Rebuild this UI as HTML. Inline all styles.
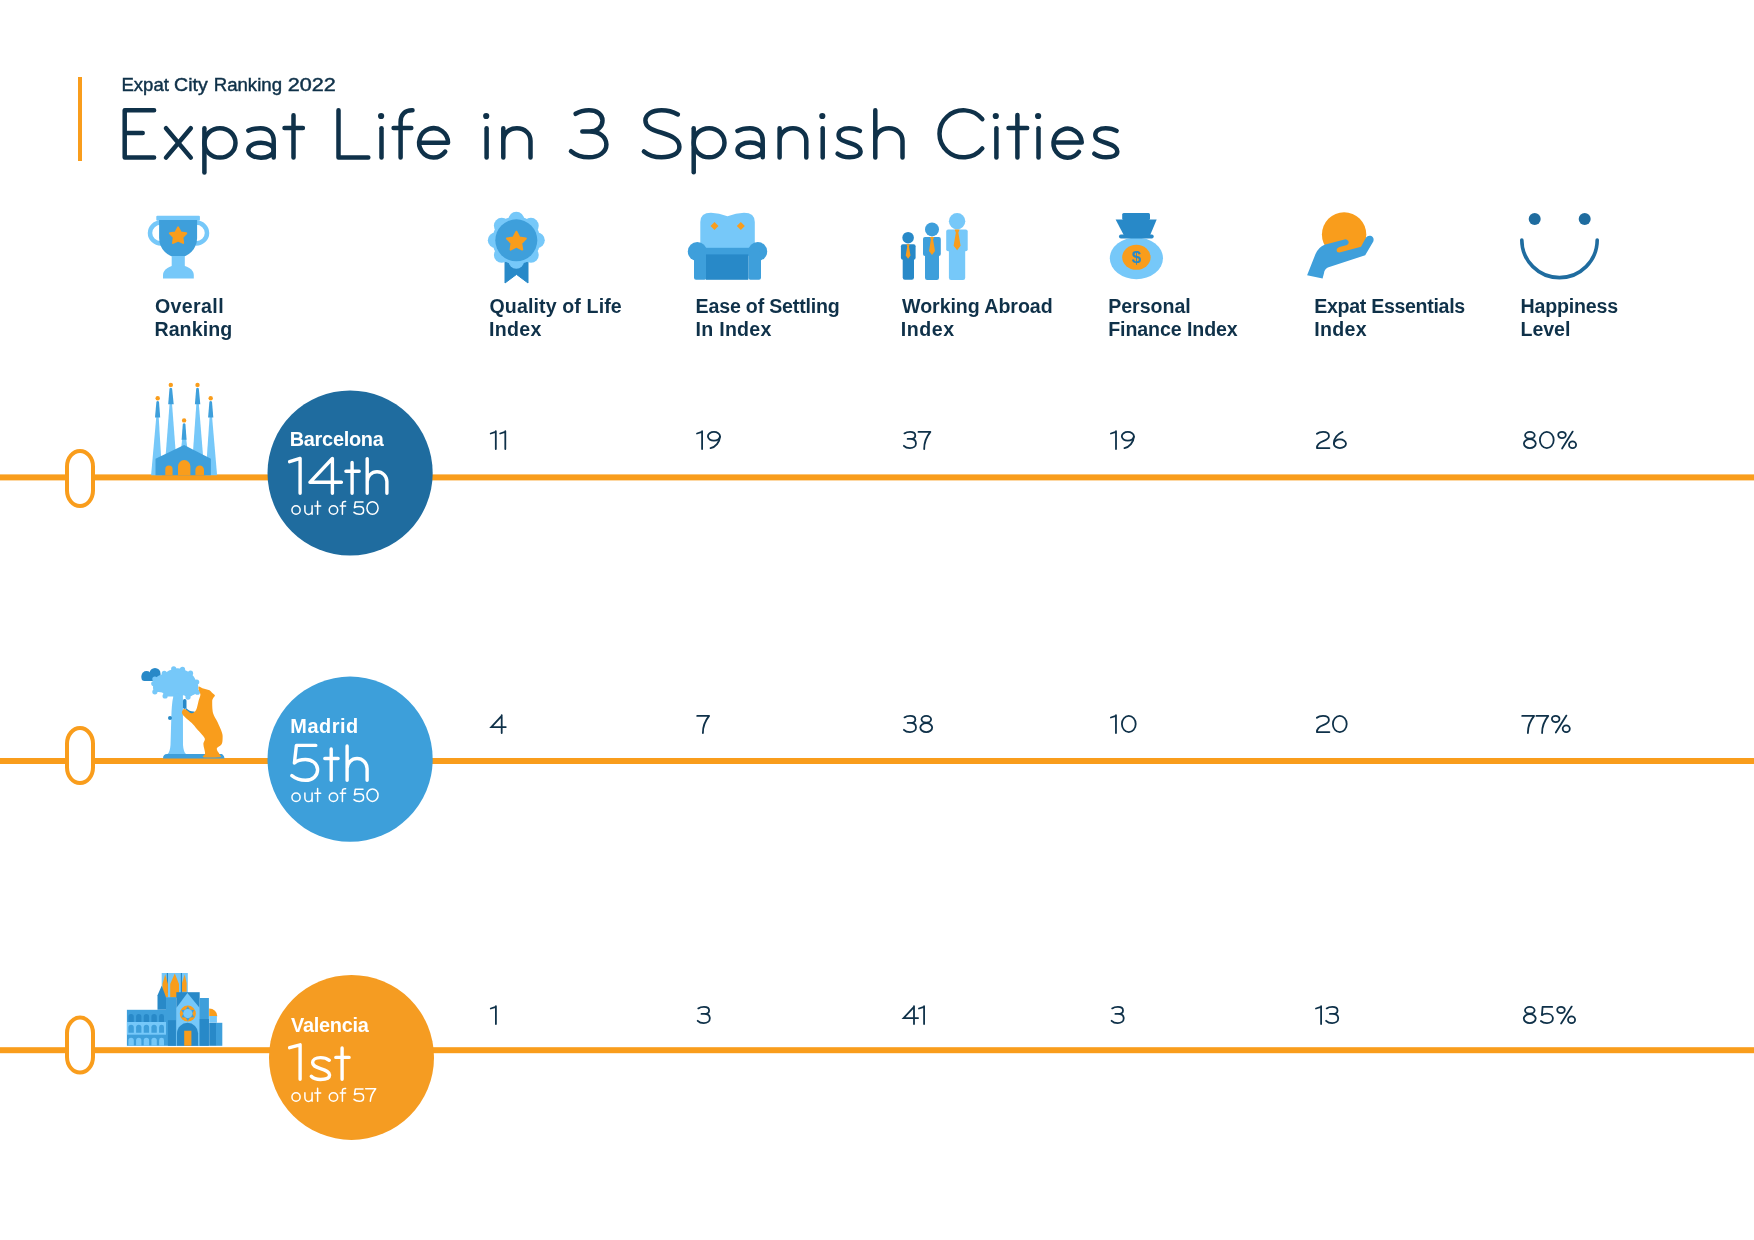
<!DOCTYPE html>
<html><head><meta charset="utf-8"><style>
html,body{margin:0;padding:0;background:#fff;width:1754px;height:1240px;overflow:hidden}
svg{display:block;position:absolute;left:0;top:0;will-change:transform}
text{font-family:"Liberation Sans",sans-serif}
</style></head><body>
<svg width="1754" height="1240" viewBox="0 0 1754 1240">
<rect x="78" y="77" width="4" height="84" fill="#f99d1c"/>
<rect x="0" y="474.4" width="1754" height="6" fill="#f99d1c"/>
<rect x="0" y="758.0" width="1754" height="6" fill="#f99d1c"/>
<rect x="0" y="1047.2" width="1754" height="6" fill="#f99d1c"/>
<rect x="67" y="451" width="26" height="55" rx="13" ry="15.5" fill="#fff" stroke="#f99d1c" stroke-width="4"/>
<rect x="67" y="728.1" width="26" height="55" rx="13" ry="15.5" fill="#fff" stroke="#f99d1c" stroke-width="4"/>
<rect x="67" y="1017.6" width="26" height="55" rx="13" ry="15.5" fill="#fff" stroke="#f99d1c" stroke-width="4"/>
<circle cx="350.1" cy="473" r="82.6" fill="#1f6c9f"/>
<circle cx="350.1" cy="759.2" r="82.6" fill="#3d9fda"/>
<circle cx="351.5" cy="1057.4" r="82.5" fill="#f59c22"/>
<g fill="none" stroke="#76c8f9" stroke-width="4.5"><path d="M161,222.5 A11,10.5 0 0 0 161,243.5"/><path d="M196,222.5 A11,10.5 0 0 1 196,243.5"/></g>
<rect x="156.3" y="215.7" width="43.6" height="5" rx="1" fill="#76c8f9"/>
<path d="M159.1,220 H197.1 V238 A19,19.5 0 0 1 159.1,238 Z" fill="#3e9fdb"/>
<rect x="171.7" y="256" width="13.1" height="11" fill="#76c8f9"/>
<path d="M163,278.6 V275 A15.4,10 0 0 1 193.8,275 V278.6 Z" fill="#76c8f9"/>
<polygon points="178.10,227.40 180.75,232.36 186.28,233.34 182.38,237.39 183.15,242.96 178.10,240.50 173.05,242.96 173.82,237.39 169.92,233.34 175.45,232.36" fill="#f99d1c" stroke="#f99d1c" stroke-width="2" stroke-linejoin="round"/>
<polygon points="505,262 528,262 528,283 516.5,274.4 505,283" fill="#2889c8" stroke="#2889c8" stroke-width="1" stroke-linejoin="round"/>
<g fill="#76c8f9"><circle cx="516.3" cy="240.3" r="24"/><circle cx="516.30" cy="219.60" r="7.8"/><circle cx="530.94" cy="225.66" r="7.8"/><circle cx="537.00" cy="240.30" r="7.8"/><circle cx="530.94" cy="254.94" r="7.8"/><circle cx="516.30" cy="261.00" r="7.8"/><circle cx="501.66" cy="254.94" r="7.8"/><circle cx="495.60" cy="240.30" r="7.8"/><circle cx="501.66" cy="225.66" r="7.8"/></g>
<circle cx="516.3" cy="240.3" r="21" fill="#3e9fdb"/>
<polygon points="516.40,231.70 519.40,237.47 525.82,238.54 521.25,243.18 522.22,249.61 516.40,246.70 510.58,249.61 511.55,243.18 506.98,238.54 513.40,237.47" fill="#f99d1c" stroke="#f99d1c" stroke-width="2" stroke-linejoin="round"/>
<path d="M700.3,250 V222 Q700.3,212.7 711,212.7 Q719,212.8 727.5,216.2 Q736,212.8 744,212.7 Q754.8,212.7 754.8,222 V250 Z" fill="#76c8f9"/>
<g fill="#3e9fdb"><circle cx="697.3" cy="251.5" r="9.5"/><circle cx="757.7" cy="251.5" r="9.5"/><rect x="694" y="251" width="12.5" height="28.8" rx="2"/><rect x="748.3" y="251" width="12.7" height="28.8" rx="2"/><rect x="705" y="247.8" width="45" height="8"/></g>
<rect x="706" y="254.4" width="42.3" height="25.4" fill="#2889c8"/>
<g fill="#f99d1c"><polygon points="714.5,222 718.5,226 714.5,230 710.5,226"/><polygon points="740.8,222 744.8,226 740.8,230 736.8,226"/></g>
<g fill="#2889c8"><circle cx="908.1" cy="237.7" r="5.8"/><rect x="900.9" y="244.2" width="14.70" height="15.50" rx="2"/><rect x="902.7" y="256.7" width="11.30" height="23.10" rx="2.2"/></g><polygon points="906.42,244.20 909.78,244.20 908.96,246.38 910.50,255.51 908.10,258.70 905.70,255.51 907.24,246.38" fill="#f99d1c"/>
<g fill="#3e9fdb"><circle cx="932" cy="229.4" r="7"/><rect x="923" y="236.9" width="17.80" height="19.10" rx="2"/><rect x="925" y="253" width="14.00" height="27.00" rx="2.2"/></g><polygon points="929.90,236.90 934.10,236.90 933.08,239.62 935.00,251.02 932.00,255.00 929.00,251.02 930.92,239.62" fill="#f99d1c"/>
<g fill="#76c8f9"><circle cx="957.1" cy="221.2" r="8.2"/><rect x="946.2" y="229.6" width="21.50" height="21.60" rx="2"/><rect x="948.9" y="248.2" width="16.30" height="31.80" rx="2.2"/></g><polygon points="954.65,229.60 959.55,229.60 958.36,232.69 960.60,245.67 957.10,250.20 953.60,245.67 955.84,232.69" fill="#f99d1c"/>
<ellipse cx="1136.4" cy="258.3" rx="26.6" ry="20.9" fill="#76c8f9"/>
<g fill="#2889c8"><rect x="1122.2" y="213" width="27.8" height="7" rx="1.5"/><polygon points="1115.6,219.4 1156.7,219.4 1150,235.5 1124,235.5"/><rect x="1119" y="234.6" width="34.7" height="3.8" rx="1.9"/></g>
<ellipse cx="1136.4" cy="257.3" rx="14.2" ry="12.5" fill="#f99d1c"/>
<text x="1136.4" y="263.3" text-anchor="middle" font-size="17" font-weight="700" fill="#2889c8">$</text>
<circle cx="1344.1" cy="234.4" r="22.2" fill="#f99d1c"/>
<path d="M1307.1,275.3 L1322.6,278.5 L1323.9,273.4 Q1324.6,269 1327.8,267.6 L1365.2,255.3 L1373.3,241.5 Q1374.6,237 1370.5,235.8 Q1367.6,235.3 1366,237.5 L1361,246.8 L1339.5,252.6 Q1336.3,252.8 1336.6,249.8 Q1337.2,247.5 1339.5,247 L1347,245 Q1349.5,243.5 1348.3,241 Q1347,239 1344.5,239.4 L1324.5,244.7 Q1318.6,247 1315.5,254 Z" fill="#3e9fdb"/>
<g fill="#1f6c9f"><circle cx="1534.7" cy="219" r="6"/><circle cx="1584.7" cy="219" r="6"/></g>
<path d="M1521.8,240 A37.7,37.7 0 0 0 1597.2,240" fill="none" stroke="#1f6c9f" stroke-width="3.6" stroke-linecap="round"/>
<polygon points="157.7,400.7 162.2,475.2 151.1,475.2" fill="#76c8f9"/>
<path d="M156.39999999999998,401.7 Q157.7,400.2 159.0,401.7 L160.2,417.6 L155,417.6 Z" fill="#3e9fdb"/>
<circle cx="157.7" cy="398.2" r="2.2" fill="#f99d1c"/>
<polygon points="170.8,387.4 176.3,460 165.3,460" fill="#76c8f9"/>
<path d="M169.5,388.4 Q170.8,386.9 172.10000000000002,388.4 L173.7,404.3 L168.2,404.3 Z" fill="#3e9fdb"/>
<circle cx="170.8" cy="384.9" r="2.2" fill="#f99d1c"/>
<polygon points="197.5,387.4 203.4,460 192.4,460" fill="#76c8f9"/>
<path d="M196.2,388.4 Q197.5,386.9 198.8,388.4 L200.3,404.3 L194.9,404.3 Z" fill="#3e9fdb"/>
<circle cx="197.5" cy="384.9" r="2.2" fill="#f99d1c"/>
<polygon points="210.7,400.7 217.1,475.2 205.6,475.2" fill="#76c8f9"/>
<path d="M209.39999999999998,401.7 Q210.7,400.2 212.0,401.7 L213.3,417.6 L208.1,417.6 Z" fill="#3e9fdb"/>
<circle cx="210.7" cy="398.2" r="2.2" fill="#f99d1c"/>
<polygon points="184.1,422.9 187.6,450 180.9,450" fill="#76c8f9"/>
<path d="M182.79999999999998,423.9 Q184.1,422.4 185.4,423.9 L186.6,439.7 L181.6,439.7 Z" fill="#3e9fdb"/>
<circle cx="184.1" cy="420.4" r="2.2" fill="#f99d1c"/>
<polygon points="155.5,458.8 184.1,445 210.9,458.8 210.9,475.2 155.5,475.2" fill="#3e9fdb"/>
<path d="M165.3,475.2 V469.04999999999995 A3.6499999999999915,3.6499999999999915 0 0 1 172.6,469.04999999999995 V475.2 Z" fill="#f99d1c"/>
<path d="M178,475.2 V466.3 A6.200000000000003,6.200000000000003 0 0 1 190.4,466.3 V475.2 Z" fill="#f99d1c"/>
<path d="M195.4,475.2 V469.7 A4.299999999999997,4.299999999999997 0 0 1 204,469.7 V475.2 Z" fill="#f99d1c"/>
<g fill="#2889c8"><circle cx="146.5" cy="676" r="5"/><circle cx="155" cy="673.5" r="5.5"/><rect x="141.5" y="674" width="20" height="7" rx="3"/></g>
<path d="M173.2,694 L182.9,694 L183,745 Q183.5,752 186,754 L167.5,754 Q170,752 170.5,745 L171.3,718 Q171.6,704 173.2,697 Z" fill="#76c8f9"/>
<g fill="#76c8f9"><path d="M154.90,679.00 C155.77,677.65 157.43,676.43 159.00,675.50 C160.57,674.57 162.63,674.23 164.30,673.40 C165.97,672.57 167.43,671.25 169.00,670.50 C170.57,669.75 172.28,669.27 173.70,668.90 C175.12,668.53 176.03,668.23 177.50,668.30 C178.97,668.37 180.93,668.83 182.50,669.30 C184.07,669.77 185.57,670.45 186.90,671.10 C188.23,671.75 189.37,672.32 190.50,673.20 C191.63,674.08 192.67,674.93 193.70,676.40 C194.73,677.87 195.95,680.43 196.70,682.00 C197.45,683.57 198.08,684.10 198.20,685.80 C198.32,687.50 198.33,690.63 197.40,692.20 C196.47,693.77 194.17,694.38 192.60,695.20 C191.03,696.02 189.58,697.10 188.00,697.10 C186.42,697.10 184.93,695.35 183.10,695.20 C181.27,695.05 178.87,696.00 177.00,696.20 C175.13,696.40 173.88,696.43 171.90,696.40 C169.92,696.37 166.73,696.63 165.10,696.00 C163.47,695.37 163.80,693.30 162.10,692.60 C160.40,691.90 156.42,692.55 154.90,691.80 C153.38,691.05 153.18,689.47 153.00,688.10 C152.82,686.73 153.48,685.12 153.80,683.60 C154.12,682.08 154.03,680.35 154.90,679.00 Z"/><circle cx="154.9" cy="679" r="2.6"/><circle cx="164.3" cy="673.4" r="2.6"/><circle cx="173.7" cy="668.9" r="2.6"/><circle cx="182.5" cy="669.3" r="2.6"/><circle cx="190.5" cy="673.2" r="2.6"/><circle cx="196.7" cy="682" r="2.6"/><circle cx="197.4" cy="692.2" r="2.6"/><circle cx="188" cy="697.1" r="2.6"/><circle cx="177" cy="696.2" r="2.6"/><circle cx="165.1" cy="696" r="2.6"/><circle cx="154.9" cy="691.8" r="2.6"/><circle cx="153.8" cy="683.6" r="2.6"/></g>
<path d="M163,758.5 Q163,754 167,754 L222,754 Q224.6,756 224.6,758.5 Z" fill="#3e9fdb"/>
<g fill="#2889c8"><rect x="182.9" y="699" width="3.6" height="10" rx="1.8"/><path d="M186,708 Q190,712 194.5,711.5 L194,715.5 Q189,716 185,712 Z"/><circle cx="170" cy="718" r="2"/></g>
<path d="M198.90,686.60 C199.53,686.38 201.22,687.77 202.40,688.20 C203.58,688.63 204.82,688.87 206.00,689.20 C207.18,689.53 208.53,689.67 209.50,690.20 C210.47,690.73 210.90,691.55 211.80,692.40 C212.70,693.25 214.68,694.33 214.90,695.30 C215.12,696.27 213.55,697.13 213.10,698.20 C212.65,699.27 212.20,699.20 212.20,701.70 C212.20,704.20 212.22,709.80 213.10,713.20 C213.98,716.60 216.02,718.83 217.50,722.10 C218.98,725.37 221.15,730.07 222.00,732.80 C222.85,735.53 222.67,736.58 222.60,738.50 C222.53,740.42 222.57,742.60 221.60,744.30 C220.63,746.00 217.00,746.82 216.80,748.70 C216.60,750.58 219.95,754.18 220.40,755.60 C220.85,757.02 222.30,756.93 219.50,757.20 C216.70,757.47 206.00,757.87 203.60,757.20 C201.20,756.53 205.13,755.35 205.10,753.20 C205.07,751.05 203.48,746.82 203.40,744.30 C203.32,741.78 205.65,740.62 204.60,738.10 C203.55,735.58 199.23,731.72 197.10,729.20 C194.97,726.68 193.72,724.92 191.80,723.00 C189.88,721.08 187.23,719.33 185.60,717.70 C183.97,716.07 182.37,714.62 182.00,713.20 C181.63,711.78 182.65,709.75 183.40,709.20 C184.15,708.65 185.10,709.23 186.50,709.90 C187.90,710.57 190.18,713.23 191.80,713.20 C193.42,713.17 195.07,711.77 196.20,709.70 C197.33,707.63 197.90,703.32 198.60,700.80 C199.30,698.28 200.40,696.48 200.40,694.60 C200.40,692.72 198.85,690.83 198.60,689.50 C198.35,688.17 198.27,686.82 198.90,686.60 Z" fill="#f99d1c"/>
<rect x="161.7" y="973" width="26.1" height="24.5" fill="#76c8f9"/>
<g fill="#2889c8"><rect x="166.8" y="973" width="1.2" height="20"/><rect x="180.8" y="973" width="1.2" height="20"/></g>
<g fill="#f99d1c"><polygon points="165.2,974.2 167.9,984 167.9,997.2 162.5,997.2 162.5,984"/><polygon points="174.8,973.4 179,984 179,997.6 170.2,997.6 170.2,984"/><polygon points="184.7,974.6 186.6,983 186.6,991.8 182,991.8 182,983"/></g>
<polygon points="157.5,995.3 161.7,985.7 166,997.2 166,1009.8 157.5,1009.8" fill="#2889c8"/>
<rect x="126.9" y="1009.8" width="39.1" height="36" fill="#3e9fdb"/>
<rect x="126.9" y="1022" width="39.1" height="12.7" fill="#76c8f9"/>
<path d="M128.4,1022 V1016.7 A2.700000000000003,2.700000000000003 0 0 1 133.8,1016.7 V1022 Z" fill="#2889c8"/>
<path d="M128.4,1032.8 V1027.4 A2.700000000000003,2.700000000000003 0 0 1 133.8,1027.4 V1032.8 Z" fill="#3e9fdb"/>
<path d="M128.4,1045.8 V1040.5 A2.700000000000003,2.700000000000003 0 0 1 133.8,1040.5 V1045.8 Z" fill="#76c8f9"/>
<path d="M136.1,1022 V1016.65 A2.6500000000000057,2.6500000000000057 0 0 1 141.4,1016.65 V1022 Z" fill="#2889c8"/>
<path d="M136.1,1032.8 V1027.3500000000001 A2.6500000000000057,2.6500000000000057 0 0 1 141.4,1027.3500000000001 V1032.8 Z" fill="#3e9fdb"/>
<path d="M136.1,1045.8 V1040.45 A2.6500000000000057,2.6500000000000057 0 0 1 141.4,1040.45 V1045.8 Z" fill="#76c8f9"/>
<path d="M143.7,1022 V1016.7 A2.700000000000003,2.700000000000003 0 0 1 149.1,1016.7 V1022 Z" fill="#2889c8"/>
<path d="M143.7,1032.8 V1027.4 A2.700000000000003,2.700000000000003 0 0 1 149.1,1027.4 V1032.8 Z" fill="#3e9fdb"/>
<path d="M143.7,1045.8 V1040.5 A2.700000000000003,2.700000000000003 0 0 1 149.1,1040.5 V1045.8 Z" fill="#76c8f9"/>
<path d="M151.4,1022 V1016.7 A2.700000000000003,2.700000000000003 0 0 1 156.8,1016.7 V1022 Z" fill="#2889c8"/>
<path d="M151.4,1032.8 V1027.4 A2.700000000000003,2.700000000000003 0 0 1 156.8,1027.4 V1032.8 Z" fill="#3e9fdb"/>
<path d="M151.4,1045.8 V1040.5 A2.700000000000003,2.700000000000003 0 0 1 156.8,1040.5 V1045.8 Z" fill="#76c8f9"/>
<path d="M159.1,1022 V1016.45 A2.450000000000003,2.450000000000003 0 0 1 164,1016.45 V1022 Z" fill="#2889c8"/>
<path d="M159.1,1032.8 V1027.15 A2.450000000000003,2.450000000000003 0 0 1 164,1027.15 V1032.8 Z" fill="#3e9fdb"/>
<path d="M159.1,1045.8 V1040.25 A2.450000000000003,2.450000000000003 0 0 1 164,1040.25 V1045.8 Z" fill="#76c8f9"/>
<rect x="166" y="997.2" width="10.3" height="48.6" fill="#3e9fdb"/>
<rect x="167.9" y="1020.2" width="8" height="25.6" fill="#2889c8"/>
<rect x="176.3" y="992.2" width="23.4" height="53.6" fill="#2889c8"/>
<polygon points="176.3,1007.9 187.4,993 199.7,1007.9 199.7,1045.8 176.3,1045.8" fill="#76c8f9"/>
<circle cx="187.8" cy="1013.6" r="8" fill="#f99d1c"/>
<polygon points="187.80,1006.20 190.00,1009.79 194.21,1009.90 192.20,1013.60 194.21,1017.30 190.00,1017.41 187.80,1021.00 185.60,1017.41 181.39,1017.30 183.40,1013.60 181.39,1009.90 185.60,1009.79" fill="#3e9fdb"/>
<circle cx="187.8" cy="1013.6" r="4.6" fill="#76c8f9"/>
<path d="M177,1045.8 V1033.3 A10.55,10.5 0 0 1 198.1,1033.3 V1045.8 Z" fill="#2889c8"/>
<rect x="184.2" y="1030.7" width="7.2" height="15.1" fill="#f99d1c"/>
<rect x="199.7" y="998" width="9.2" height="47.8" fill="#3e9fdb"/>
<rect x="199.7" y="1019" width="9.2" height="26.8" fill="#2889c8"/>
<path d="M209.2,1016.2 V1008.6 A8.1,7.6 0 0 1 217.3,1016.2 Z" fill="#f99d1c"/>
<rect x="209.2" y="1016" width="7.7" height="6.6" fill="#76c8f9"/>
<rect x="209.2" y="1022.8" width="7" height="23" fill="#2889c8"/>
<rect x="216" y="1022.8" width="6.3" height="23" fill="#3e9fdb"/>
<g fill="none" stroke="#fff" stroke-width="3.4" stroke-linecap="round" stroke-linejoin="round"><path d="M289.6,461.7 L300.1,458.4 V493.2"/><path d="M341.4,482.3 H309.9 L332.4,458.5 V493.2"/><path d="M352.1,462.4 V493.2 M345.9,471.3 H359.2"/><path d="M367.2,458.6 V493.2 M367.2,481.6 A9.85,9.85 0 0 1 386.9,481.6 V493.2"/><path d="M315.8,745.4 H296.4 L294.4,763 C297,760.5 301,759.5 305.5,759.5 C312.5,759.5 317.6,764 317.6,769.8 C317.6,776 312.5,780.3 305.5,780.3 C300,780.3 295.5,778.5 291.9,775.6"/><path d="M331.2,748.9 V780.2 M324.8,758.5 H338.1"/><path d="M347.1,746 V780.2 M347.1,768.5 A10,10 0 0 1 367.1,768.5 V780.2"/><path d="M289.6,1047.7 L300.1,1044.8 V1079.2"/><path d="M329.3,1060.3 C327,1058.5 324,1057.6 320.5,1057.6 C315.5,1057.6 312.6,1059.8 312.6,1062.6 C312.6,1065.5 315,1066.8 320.5,1068.6 C326.5,1070.5 329.6,1072 329.6,1075 C329.6,1078 326,1079.5 320.5,1079.5 C316.5,1079.5 313.5,1078.5 311.3,1076.2"/><path d="M342.1,1047.9 V1079.2 M335.8,1057.4 H349.1"/></g>
<g fill="none" stroke="#0f3149" stroke-width="1.8" stroke-linecap="round" stroke-linejoin="round"><g transform="translate(489.8,431)"><path d="M0.9,2.5 L5.9,0.9 M6.0,0.2 V18"/></g><g transform="translate(499.3,431)"><path d="M0.9,2.5 L5.9,0.9 M6.0,0.2 V18"/></g><g transform="translate(696.1,431)"><path d="M0.9,2.5 L5.9,0.9 M6.0,0.2 V18"/></g><g transform="translate(707.0,431)"><ellipse cx="6.95" cy="5.3" rx="6.05" ry="4.4"/><path d="M13,5.6 C12.6,11.5 8.6,16 3.6,17.2"/></g><g transform="translate(902.96,431)"><path d="M1.5,2.4 C3,1.3 5,0.9 7.2,0.9 C10.2,0.9 12.3,2.3 12.3,4.4 C12.3,6.6 10.3,7.9 7.3,7.9 H4.7 M7.3,7.9 C10.9,7.9 13,9.9 13,12.4 C13,15.3 10.4,17.1 7,17.1 C4.3,17.1 2.2,16.2 0.9,14.8"/></g><g transform="translate(918.08,431)"><path d="M0.4,0.9 H12.3 C8.6,5.5 6.0,11 6.1,18"/></g><g transform="translate(1110,431)"><path d="M0.9,2.5 L5.9,0.9 M6.0,0.2 V18"/></g><g transform="translate(1120.9,431)"><ellipse cx="6.95" cy="5.3" rx="6.05" ry="4.4"/><path d="M13,5.6 C12.6,11.5 8.6,16 3.6,17.2"/></g><g transform="translate(1316.05,431)"><path d="M0.9,2.8 C2.5,1.4 4.6,0.9 7,0.9 C10.6,0.9 12.9,2.6 12.9,5 C12.9,7.8 10.6,8.9 7.2,10.1 C3.4,11.4 0.9,13.2 0.9,17.1 H13.4"/></g><g transform="translate(1332.99,431)"><path d="M9.6,0.9 C4.5,3.2 0.9,7.3 0.9,12.7"/><ellipse cx="6.95" cy="12.75" rx="6.05" ry="4.35"/></g><g transform="translate(1523,431)"><ellipse cx="6.9" cy="4.3" rx="4.8" ry="3.4"/><ellipse cx="6.85" cy="12.6" rx="5.95" ry="4.5"/></g><g transform="translate(1539,431)"><ellipse cx="7.8" cy="9" rx="6.9" ry="8.1"/></g><g transform="translate(1557.3,431)"><ellipse cx="4.7" cy="4" rx="3.8" ry="3.1"/><ellipse cx="15.25" cy="13.7" rx="3.55" ry="3.4"/><path d="M15.4,0.6 L4.8,17.5"/></g><g transform="translate(490.4,715)"><path d="M15.4,12.1 H0.9 L11.3,0.9 M11.3,0.2 V18" stroke-linejoin="miter"/></g><g transform="translate(696.8,715)"><path d="M0.4,0.9 H12.3 C8.6,5.5 6.0,11 6.1,18"/></g><g transform="translate(903,715)"><path d="M1.5,2.4 C3,1.3 5,0.9 7.2,0.9 C10.2,0.9 12.3,2.3 12.3,4.4 C12.3,6.6 10.3,7.9 7.3,7.9 H4.7 M7.3,7.9 C10.9,7.9 13,9.9 13,12.4 C13,15.3 10.4,17.1 7,17.1 C4.3,17.1 2.2,16.2 0.9,14.8"/></g><g transform="translate(919.4,715)"><ellipse cx="6.9" cy="4.3" rx="4.8" ry="3.4"/><ellipse cx="6.85" cy="12.6" rx="5.95" ry="4.5"/></g><g transform="translate(1109.96,715)"><path d="M0.9,2.5 L5.9,0.9 M6.0,0.2 V18"/></g><g transform="translate(1121,715)"><ellipse cx="7.8" cy="9" rx="6.9" ry="8.1"/></g><g transform="translate(1316,715)"><path d="M0.9,2.8 C2.5,1.4 4.6,0.9 7,0.9 C10.6,0.9 12.9,2.6 12.9,5 C12.9,7.8 10.6,8.9 7.2,10.1 C3.4,11.4 0.9,13.2 0.9,17.1 H13.4"/></g><g transform="translate(1332,715)"><ellipse cx="7.8" cy="9" rx="6.9" ry="8.1"/></g><g transform="translate(1521.8,715)"><path d="M0.4,0.9 H12.3 C8.6,5.5 6.0,11 6.1,18"/></g><g transform="translate(1536,715)"><path d="M0.4,0.9 H12.3 C8.6,5.5 6.0,11 6.1,18"/></g><g transform="translate(1551,715)"><ellipse cx="4.7" cy="4" rx="3.8" ry="3.1"/><ellipse cx="15.25" cy="13.7" rx="3.55" ry="3.4"/><path d="M15.4,0.6 L4.8,17.5"/></g><g transform="translate(489.9,1006)"><path d="M0.9,2.5 L5.9,0.9 M6.0,0.2 V18"/></g><g transform="translate(696.8,1006)"><path d="M1.5,2.4 C3,1.3 5,0.9 7.2,0.9 C10.2,0.9 12.3,2.3 12.3,4.4 C12.3,6.6 10.3,7.9 7.3,7.9 H4.7 M7.3,7.9 C10.9,7.9 13,9.9 13,12.4 C13,15.3 10.4,17.1 7,17.1 C4.3,17.1 2.2,16.2 0.9,14.8"/></g><g transform="translate(902.7,1006)"><path d="M15.4,12.1 H0.9 L11.3,0.9 M11.3,0.2 V18" stroke-linejoin="miter"/></g><g transform="translate(918.08,1006)"><path d="M0.9,2.5 L5.9,0.9 M6.0,0.2 V18"/></g><g transform="translate(1110.7,1006)"><path d="M1.5,2.4 C3,1.3 5,0.9 7.2,0.9 C10.2,0.9 12.3,2.3 12.3,4.4 C12.3,6.6 10.3,7.9 7.3,7.9 H4.7 M7.3,7.9 C10.9,7.9 13,9.9 13,12.4 C13,15.3 10.4,17.1 7,17.1 C4.3,17.1 2.2,16.2 0.9,14.8"/></g><g transform="translate(1315.1,1006)"><path d="M0.9,2.5 L5.9,0.9 M6.0,0.2 V18"/></g><g transform="translate(1325.2,1006)"><path d="M1.5,2.4 C3,1.3 5,0.9 7.2,0.9 C10.2,0.9 12.3,2.3 12.3,4.4 C12.3,6.6 10.3,7.9 7.3,7.9 H4.7 M7.3,7.9 C10.9,7.9 13,9.9 13,12.4 C13,15.3 10.4,17.1 7,17.1 C4.3,17.1 2.2,16.2 0.9,14.8"/></g><g transform="translate(1522.9,1006)"><ellipse cx="6.9" cy="4.3" rx="4.8" ry="3.4"/><ellipse cx="6.85" cy="12.6" rx="5.95" ry="4.5"/></g><g transform="translate(1540.0,1006)"><path d="M12.2,0.9 H2.6 L1.9,9.2 C3.2,8.2 5,7.7 7,7.7 C10.5,7.7 12.9,9.8 12.9,12.5 C12.9,15.2 10.5,17.1 7,17.1 C4.5,17.1 2.3,16.3 0.9,15"/></g><g transform="translate(1556.3,1006)"><ellipse cx="4.7" cy="4" rx="3.8" ry="3.1"/><ellipse cx="15.25" cy="13.7" rx="3.55" ry="3.4"/><path d="M15.4,0.6 L4.8,17.5"/></g></g>
<g fill="none" stroke="#fff" stroke-width="1.5" stroke-linecap="round" stroke-linejoin="round"><g transform="translate(291.2,515)"><ellipse cx="4.85" cy="-5" rx="4.1" ry="4.25"/><path d="M13.7,-9.2 V-4.5 A3.6,3.9 0 0 0 20.9,-4.5 M20.9,-9.2 V-0.8"/><path d="M26.4,-13.7 V-0.8 M23.6,-8.9 H29.5"/><ellipse cx="42.25" cy="-5" rx="4.2" ry="4.25"/><path d="M51.2,-0.8 V-11 C51.2,-13 52.3,-13.7 54.4,-13.5 M49.1,-8.9 H54.4"/><path d="M71.8,-12.9 H64.1 L63.3,-7.3 C64.5,-8 66,-8.4 68.1,-8.4 C70.6,-8.4 72.4,-6.8 72.4,-4.6 C72.4,-2.2 70.5,-0.7 68.1,-0.7 C65.8,-0.7 64,-1.4 62.8,-2.6"/><ellipse cx="81.3" cy="-7" rx="5.55" ry="6.25"/></g><g transform="translate(291.2,802.2)"><ellipse cx="4.85" cy="-5" rx="4.1" ry="4.25"/><path d="M13.7,-9.2 V-4.5 A3.6,3.9 0 0 0 20.9,-4.5 M20.9,-9.2 V-0.8"/><path d="M26.4,-13.7 V-0.8 M23.6,-8.9 H29.5"/><ellipse cx="42.25" cy="-5" rx="4.2" ry="4.25"/><path d="M51.2,-0.8 V-11 C51.2,-13 52.3,-13.7 54.4,-13.5 M49.1,-8.9 H54.4"/><path d="M71.8,-12.9 H64.1 L63.3,-7.3 C64.5,-8 66,-8.4 68.1,-8.4 C70.6,-8.4 72.4,-6.8 72.4,-4.6 C72.4,-2.2 70.5,-0.7 68.1,-0.7 C65.8,-0.7 64,-1.4 62.8,-2.6"/><ellipse cx="81.3" cy="-7" rx="5.55" ry="6.25"/></g><g transform="translate(291.2,1102)"><ellipse cx="4.85" cy="-5" rx="4.1" ry="4.25"/><path d="M13.7,-9.2 V-4.5 A3.6,3.9 0 0 0 20.9,-4.5 M20.9,-9.2 V-0.8"/><path d="M26.4,-13.7 V-0.8 M23.6,-8.9 H29.5"/><ellipse cx="42.25" cy="-5" rx="4.2" ry="4.25"/><path d="M51.2,-0.8 V-11 C51.2,-13 52.3,-13.7 54.4,-13.5 M49.1,-8.9 H54.4"/><path d="M71.8,-12.9 H64.1 L63.3,-7.3 C64.5,-8 66,-8.4 68.1,-8.4 C70.6,-8.4 72.4,-6.8 72.4,-4.6 C72.4,-2.2 70.5,-0.7 68.1,-0.7 C65.8,-0.7 64,-1.4 62.8,-2.6"/><path d="M74.5,-13.2 H84.5 C81.6,-9.6 79.3,-5 79.1,-0.7"/></g></g>
<g fill="none" stroke="#0f3149" stroke-width="4.5" stroke-linecap="round" stroke-linejoin="round"><path d="M154.1,110.2 H124.7 V157.6 H154.1 M124.7,132.9 H142.7"/><path d="M166,128.2 L190.8,157.6 M190.8,128.2 L166,157.6"/><path d="M204.4,128.2 V172.6"/><path d="M248.4,130.6 C252,129 256,128.2 260.5,128.2 C268.5,128.2 273.7,133 273.7,141 V157.6"/><path d="M293.5,115.3 V157.6 M284.5,127.9 H302.9"/><path d="M338.5,110.2 V157.6 H368.3"/><path d="M381.5,128.2 V157.6"/><path d="M400.6,157.6 V122 C400.6,114.5 405,110.2 412,110.2 H412.5 M393.6,127.9 H411.3"/><path d="M419.2,142.7 H448.05 A14.45,14.65 0 1 0 445.2,151.6"/><path d="M486.6,128.2 V157.6"/><path d="M503.3,128.2 V157.6 M503.3,141 C503.3,133.5 509,128.2 516.9,128.2 C524.8,128.2 530.5,133.5 530.5,141 V157.6"/><path d="M575.6,113.8 C579.5,111.5 584,110.3 589,110.3 C597,110.3 602.5,114.5 602.5,120.5 C602.5,127 597,131.5 589.5,131.5 H582.3 M589.5,131.5 C599.5,131.5 606.4,137 606.4,144.5 C606.4,152 599,157.3 589,157.3 C581.5,157.3 575.5,155 571,151.2"/><path d="M677.9,114.5 C673,111.8 667.5,110.3 661.5,110.3 C652,110.3 645.4,114.5 645.4,120.5 C645.4,127 651,129.5 661,132.5 C672.5,136 679.4,139.5 679.4,147 C679.4,153.5 672,157.3 661.5,157.3 C654,157.3 648,155 643.9,151.5"/><path d="M693.7,128.2 V172.3"/><path d="M737.5,130.9 C741,129 745.5,128.2 750,128.2 C757.5,128.2 762.7,132.5 762.7,140.5 V157.3"/><path d="M779.6,128.2 V157.6 M779.6,141 C779.6,133.5 785.3,128.2 792.95,128.2 C800.6,128.2 806.3,133.5 806.3,141 V157.6"/><path d="M822.7,128.2 V157.6"/><path d="M859.9,130.9 C857,129.2 853,128.2 849,128.2 C842.5,128.2 838.6,131 838.6,135 C838.6,139.5 843,141 849.8,143 C857,145.2 860.6,147.5 860.6,151.5 C860.6,155.2 856,157.3 849.5,157.3 C844.5,157.3 840.5,156 837.6,153.7"/><path d="M875.3,110.3 V157.6 M875.3,141 C875.3,133.5 881,128.2 888.9,128.2 C896.8,128.2 902.5,133.5 902.5,141 V157.6"/><path d="M982.3,119.2 A24,23.5 0 1 0 982.3,148.4"/><path d="M996.4,128.2 V157.6"/><path d="M1017.4,115.1 V157.6 M1008.5,127.9 H1027.2"/><path d="M1038.5,128.2 V157.6"/><path d="M1053.45,142.4 H1081.75 A14.15,14.5 0 1 0 1079,151.8"/><path transform="translate(256.7,0)" d="M859.9,130.9 C857,129.2 853,128.2 849,128.2 C842.5,128.2 838.6,131 838.6,135 C838.6,139.5 843,141 849.8,143 C857,145.2 860.6,147.5 860.6,151.5 C860.6,155.2 856,157.3 849.5,157.3 C844.5,157.3 840.5,156 837.6,153.7"/><ellipse cx="219.95" cy="142.9" rx="15.55" ry="14.7"/><ellipse cx="261" cy="150.15" rx="12.7" ry="7.5"/><ellipse cx="709.1" cy="142.75" rx="15.4" ry="14.55"/><ellipse cx="750.1" cy="149.95" rx="12.6" ry="7.35"/></g>
<g fill="#0f3149"><circle cx="381.1" cy="116" r="3.1"/><circle cx="486.2" cy="116" r="3.1"/><circle cx="822.3" cy="116" r="3.1"/><circle cx="995.8" cy="116" r="3.1"/><circle cx="1038.1" cy="116" r="3.1"/></g>
<text transform="translate(121.51,91.3) scale(0.9958,1)" font-size="18.6" font-weight="400" fill="#0f3149" stroke="#0f3149" stroke-width="0.45">Expat</text>
<text transform="translate(174.05,91.3) scale(1.0504,1)" font-size="18.6" font-weight="400" fill="#0f3149" stroke="#0f3149" stroke-width="0.45">City</text>
<text transform="translate(213.70,91.3) scale(1.0016,1)" font-size="18.6" font-weight="400" fill="#0f3149" stroke="#0f3149" stroke-width="0.45">Ranking</text>
<text transform="translate(287.75,91.3) scale(1.1632,1)" font-size="18.6" font-weight="400" fill="#0f3149" stroke="#0f3149" stroke-width="0.45">2022</text>
<text x="154.90" y="312.7" font-size="19.6" font-weight="700" fill="#0f3149" letter-spacing="0.380">Overall</text>
<text x="154.40" y="335.7" font-size="19.6" font-weight="700" fill="#0f3149" letter-spacing="0.092">Ranking</text>
<text x="489.50" y="312.7" font-size="19.6" font-weight="700" fill="#0f3149" letter-spacing="0.116">Quality of Life</text>
<text x="489.00" y="335.7" font-size="19.6" font-weight="700" fill="#0f3149" letter-spacing="0.327">Index</text>
<text x="695.60" y="312.7" font-size="19.6" font-weight="700" fill="#0f3149" letter-spacing="-0.190">Ease of Settling</text>
<text x="695.60" y="335.7" font-size="19.6" font-weight="700" fill="#0f3149" letter-spacing="0.249">In Index</text>
<text x="902.10" y="312.7" font-size="19.6" font-weight="700" fill="#0f3149" letter-spacing="-0.062">Working Abroad</text>
<text x="900.80" y="335.7" font-size="19.6" font-weight="700" fill="#0f3149" letter-spacing="0.552">Index</text>
<text x="1108.20" y="312.7" font-size="19.6" font-weight="700" fill="#0f3149" letter-spacing="-0.035">Personal</text>
<text x="1108.20" y="335.7" font-size="19.6" font-weight="700" fill="#0f3149" letter-spacing="-0.092">Finance Index</text>
<text x="1314.30" y="312.7" font-size="19.6" font-weight="700" fill="#0f3149" letter-spacing="-0.326">Expat Essentials</text>
<text x="1314.30" y="335.7" font-size="19.6" font-weight="700" fill="#0f3149" letter-spacing="0.302">Index</text>
<text x="1520.50" y="312.7" font-size="19.6" font-weight="700" fill="#0f3149" letter-spacing="-0.190">Happiness</text>
<text x="1520.50" y="335.7" font-size="19.6" font-weight="700" fill="#0f3149" letter-spacing="-0.069">Level</text>
<text x="289.70" y="446" font-size="19.9" font-weight="700" fill="#ffffff" letter-spacing="-0.257">Barcelona</text>
<text x="290.30" y="732.5" font-size="19.9" font-weight="700" fill="#ffffff" letter-spacing="0.545">Madrid</text>
<text x="291.10" y="1031.8" font-size="19.9" font-weight="700" fill="#ffffff" letter-spacing="-0.270">Valencia</text>
</svg>
</body></html>
